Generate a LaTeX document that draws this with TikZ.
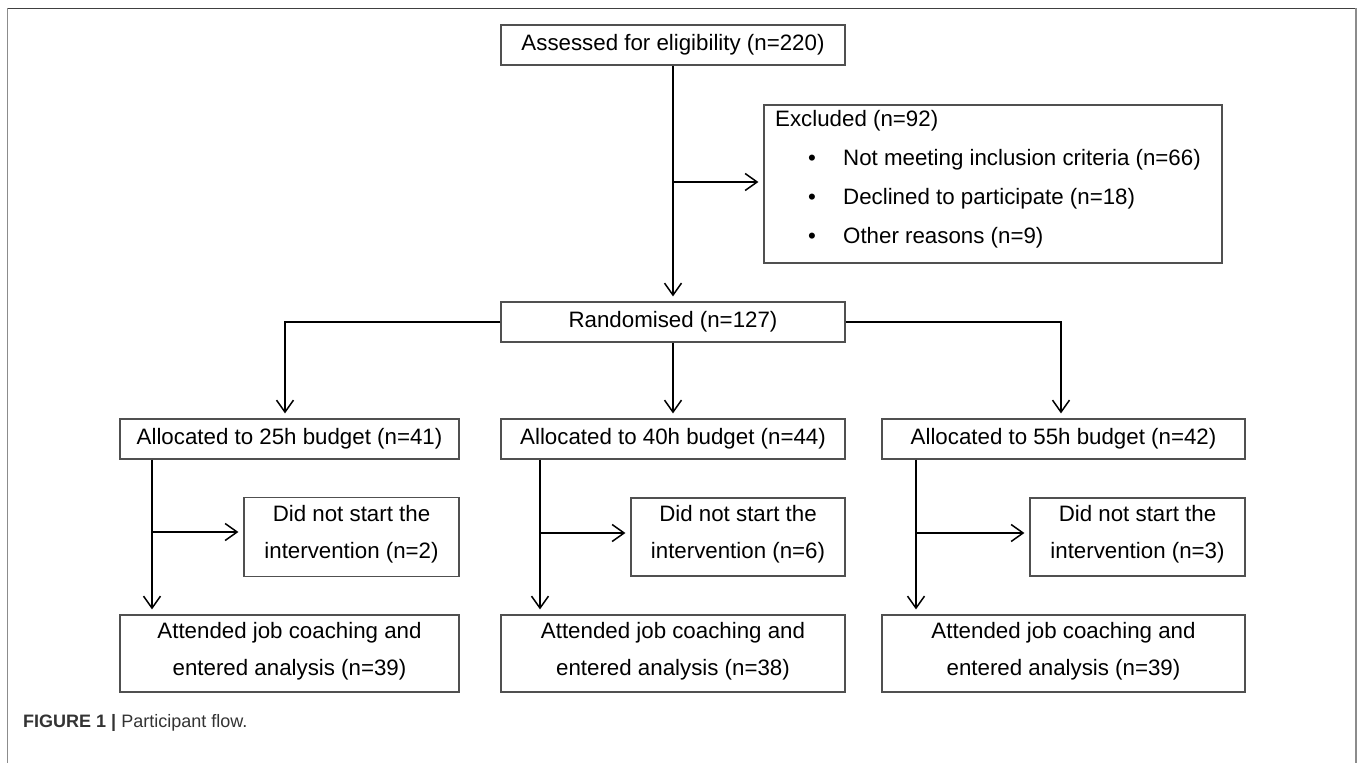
\documentclass[tikz,border=0pt]{standalone}
\usepackage{fontspec}
\setmainfont{Liberation Sans}
\usetikzlibrary{arrows.meta}
\definecolor{boxgray}{HTML}{505050}
\definecolor{framedark}{HTML}{404040}
\definecolor{frameside}{HTML}{8C8C8C}
\definecolor{captext}{HTML}{333333}
\begin{document}
\begin{tikzpicture}[x=1pt,y=-1pt,
  box/.style={draw=boxgray, line width=1.2pt, inner sep=0pt, minimum height=40pt,
    font=\fontsize{22.3}{37}\selectfont, align=center, text=black},
  twoline/.style={box, text depth=10pt},
  plain/.style={inner sep=0pt, font=\fontsize{22.3}{37}\selectfont, text=black},
  conn/.style={line width=1.5pt, draw=black},
  arr/.style={conn, -{Straight Barb[length=12pt,width=17pt]}, shorten >=5pt}]
\useasboundingbox (0,0) rectangle (1358,763);

% figure frame
\draw[line width=1pt, draw=framedark] (7.5,8) -- (1356,8);
\draw[line width=1.3pt, draw=frameside] (7.5,8) -- (7.5,763);
\draw[line width=1.3pt, draw=frameside] (1356,8) -- (1356,763);

% boxes
\node[box, minimum width=344pt] (assess) at (673,45) {Assessed for eligibility (n=220)};
\node[box, minimum width=458pt, minimum height=158pt] (excl) at (993,184) {};
\node[plain, anchor=west] (exh) at (775,121) {Excluded (n=92)};
\node[plain, anchor=west] (ex1) at (808,160) {\makebox[35pt][l]{•}Not meeting inclusion criteria (n=66)};
\node[plain, anchor=west] (ex2) at (808,199) {\makebox[35pt][l]{•}Declined to participate (n=18)};
\node[plain, anchor=west] (ex3) at (808,238) {\makebox[35pt][l]{•}Other reasons (n=9)};

\node[box, minimum width=344pt] (rand) at (673,322) {Randomised (n=127)};

\node[box, minimum width=339pt] (a25) at (289.5,439) {Allocated to 25h budget (n=41)};
\node[box, minimum width=344pt] (a40) at (673,439) {Allocated to 40h budget (n=44)};
\node[box, minimum width=363pt] (a55) at (1063.5,439) {Allocated to 55h budget (n=42)};

\node[twoline, minimum width=215pt, minimum height=79pt] (d2) at (351.5,537) {Did not start the\\intervention (n=2)};
\node[twoline, minimum width=214pt, minimum height=78pt] (d6) at (738,537) {Did not start the\\intervention (n=6)};
\node[twoline, minimum width=215pt, minimum height=78pt] (d3) at (1137.5,537) {Did not start the\\intervention (n=3)};

\node[twoline, minimum width=339pt, minimum height=77pt] (t39a) at (289.5,653.5) {Attended job coaching and\\entered analysis (n=39)};
\node[twoline, minimum width=344pt, minimum height=77pt] (t38) at (673,653.5) {Attended job coaching and\\entered analysis (n=38)};
\node[twoline, minimum width=363pt, minimum height=77pt] (t39b) at (1063.5,653.5) {Attended job coaching and\\entered analysis (n=39)};

% caption
\node[anchor=base west, inner sep=0pt, text=captext, font=\fontsize{18}{20}\selectfont] (cap) at (23,727) {\textbf{FIGURE 1 |} Participant flow.};

% connectors
\coordinate (j1) at (673,182);
\coordinate (lc) at (285,322);
\coordinate (rc) at (1061,322);
\coordinate (v1) at (152,532);
\coordinate (v2) at (540,533);
\coordinate (v3) at (916,533);

\draw[arr] (assess) -- (rand);
\draw[arr] (j1) -- (excl.west |- j1);
\draw[arr] (rand.west) -| (lc |- a25.north);
\draw[arr] (rand.east) -| (rc |- a55.north);
\draw[arr] (rand) -- (a40);

\draw[arr] (v1 |- a25.south) -- (v1 |- t39a.north);
\draw[arr] (v1) -- (d2.west |- v1);
\draw[arr] (v2 |- a40.south) -- (v2 |- t38.north);
\draw[arr] (v2) -- (d6.west |- v2);
\draw[arr] (v3 |- a55.south) -- (v3 |- t39b.north);
\draw[arr] (v3) -- (d3.west |- v3);
\end{tikzpicture}
\end{document}
